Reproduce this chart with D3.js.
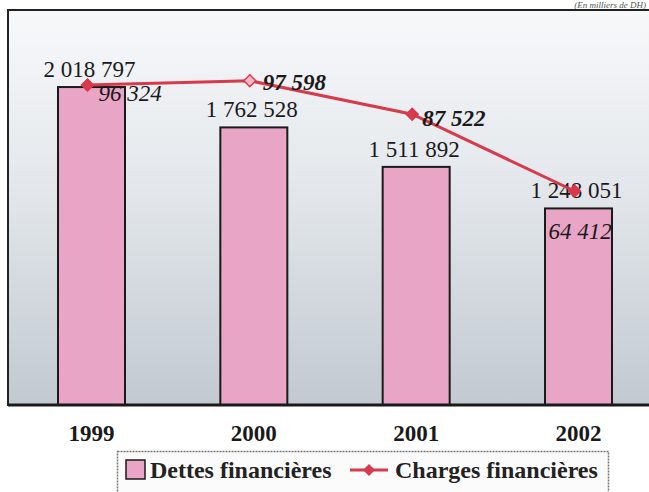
<!DOCTYPE html>
<html>
<head>
<meta charset="utf-8">
<script src="https://cdn.jsdelivr.net/npm/d3@7"></script>
<style>
  body { margin: 0; background: #fff; }
  svg { display: block; font-family: "Liberation Serif", "Times New Roman", Times, serif; }
</style>
</head>
<body>
<div class="container"></div>
<script>
// DATA
const years = ["1999", "2000", "2001", "2002"];
const dettes = [2018797, 1762528, 1511892, 1248051];   // bars
const charges = [96324, 97598, 87522, 64412];          // line
const seriesNames = ["Dettes financières", "Charges financières"];

const width = 649;
const height = 492;

// frame of the plot
const plotTop = 10;
const plotBottom = 405;
const plotLeft = 8;

const fmt = v => d3.format(",")(v).replace(/,/g, " ");

const svg = d3.select(".container")
  .append("svg")
  .attr("width", width)
  .attr("height", height);

// background gradient of the plot area
const grad = svg.append("defs").append("linearGradient")
  .attr("id", "bg").attr("x1", 0).attr("y1", 0).attr("x2", 0).attr("y2", 1);
grad.append("stop").attr("offset", "0%").attr("stop-color", "#f7f8fa");
grad.append("stop").attr("offset", "45%").attr("stop-color", "#e3e7eb");
grad.append("stop").attr("offset", "100%").attr("stop-color", "#c2c9d1");

// scales
const x = d3.scalePoint()
  .domain(years)
  .range([91.5, 578.5]);

const barWidth = 67;

// both series share the same baseline at the bottom of the frame
const yBar = d3.scaleLinear()
  .domain([0, 2508000])
  .range([plotBottom, plotTop]);

const yLine = d3.scaleLinear()
  .domain([0, 118900])
  .range([plotBottom, plotTop]);

// unit note at the top right
svg.append("text")
  .attr("x", 646)
  .attr("y", 8)
  .attr("text-anchor", "end")
  .attr("font-size", 9)
  .attr("font-style", "italic")
  .attr("fill", "#555")
  .text("(En milliers de DH)");

// plot frame
svg.append("rect")
  .attr("x", plotLeft)
  .attr("y", plotTop)
  .attr("width", 700)
  .attr("height", plotBottom - plotTop)
  .attr("fill", "url(#bg)")
  .attr("stroke", "#222")
  .attr("stroke-width", 2);

// bars
svg.selectAll("rect.bar")
  .data(dettes)
  .enter()
  .append("rect")
  .attr("class", "bar")
  .attr("x", (d, i) => x(years[i]) - barWidth / 2)
  .attr("y", d => yBar(d))
  .attr("width", barWidth)
  .attr("height", d => plotBottom - yBar(d))
  .attr("fill", "#e9a5c6")
  .attr("stroke", "#1a1a1a")
  .attr("stroke-width", 2);

// bottom axis line
svg.append("line")
  .attr("x1", plotLeft).attr("x2", width)
  .attr("y1", plotBottom).attr("y2", plotBottom)
  .attr("stroke", "#1a1a1a")
  .attr("stroke-width", 3);

// bar value labels
svg.selectAll("text.barlab")
  .data(dettes)
  .enter()
  .append("text")
  .attr("class", "barlab")
  .attr("x", (d, i) => x(years[i]) - 2)
  .attr("y", d => yBar(d) - 10)
  .attr("text-anchor", "middle")
  .attr("font-size", 23)
  .attr("fill", "#1a1a1a")
  .text(d => fmt(d));

// line
const lineColor = "#d63a4c";
const px = (d, i) => x(years[i]) - 4;

const line = d3.line()
  .x(px)
  .y(d => yLine(d));

svg.append("path")
  .datum(charges)
  .attr("d", line)
  .attr("fill", "none")
  .attr("stroke", lineColor)
  .attr("stroke-width", 3);

const diamond = d3.symbol().type(d3.symbolDiamond2).size(90);

svg.selectAll("path.marker")
  .data(charges)
  .enter()
  .append("path")
  .attr("class", "marker")
  .attr("d", diamond)
  .attr("transform", (d, i) => `translate(${px(d, i)},${yLine(d)})`)
  .attr("fill", (d, i) => i === 1 ? "#f2b8c8" : lineColor)
  .attr("stroke", lineColor)
  .attr("stroke-width", 1.5);

// line value labels (offsets from each marker)
const lineLabelOffsets = [[11, 16], [13, 9], [10, 12], [-26, 48]];

svg.selectAll("text.linelab")
  .data(charges)
  .enter()
  .append("text")
  .attr("class", "linelab")
  .attr("x", (d, i) => px(d, i) + lineLabelOffsets[i][0])
  .attr("y", (d, i) => yLine(d) + lineLabelOffsets[i][1])
  .attr("font-size", 23)
  .attr("font-style", "italic")
  .attr("font-weight", (d, i) => (i === 1 || i === 2) ? "bold" : "normal")
  .attr("fill", "#1a1a1a")
  .text(d => fmt(d));

// year labels
svg.selectAll("text.year")
  .data(years)
  .enter()
  .append("text")
  .attr("class", "year")
  .attr("x", d => x(d))
  .attr("y", 441)
  .attr("text-anchor", "middle")
  .attr("font-size", 23)
  .attr("font-weight", "bold")
  .attr("fill", "#1a1a1a")
  .text(d => d);

// LEGEND
const legend = svg.append("g");

legend.append("rect")
  .attr("x", 117.5)
  .attr("y", 451.5)
  .attr("width", 491)
  .attr("height", 60)
  .attr("fill", "#fbfbfb")
  .attr("stroke", "#777")
  .attr("stroke-width", 1.5)
  .attr("stroke-dasharray", "2,1");

legend.append("rect")
  .attr("x", 126)
  .attr("y", 460)
  .attr("width", 19)
  .attr("height", 19)
  .attr("fill", "#e9a5c6")
  .attr("stroke", "#1a1a1a")
  .attr("stroke-width", 1.5);

legend.append("text")
  .attr("x", 150)
  .attr("y", 478)
  .attr("font-size", 24)
  .attr("font-weight", "bold")
  .attr("fill", "#222")
  .text(seriesNames[0]);

legend.append("line")
  .attr("x1", 350).attr("x2", 388)
  .attr("y1", 470).attr("y2", 470)
  .attr("stroke", lineColor)
  .attr("stroke-width", 3);

legend.append("path")
  .attr("d", diamond)
  .attr("transform", "translate(369,470)")
  .attr("fill", lineColor);

legend.append("text")
  .attr("x", 395)
  .attr("y", 478)
  .attr("font-size", 24)
  .attr("font-weight", "bold")
  .attr("fill", "#222")
  .text(seriesNames[1]);
</script>
</body>
</html>
